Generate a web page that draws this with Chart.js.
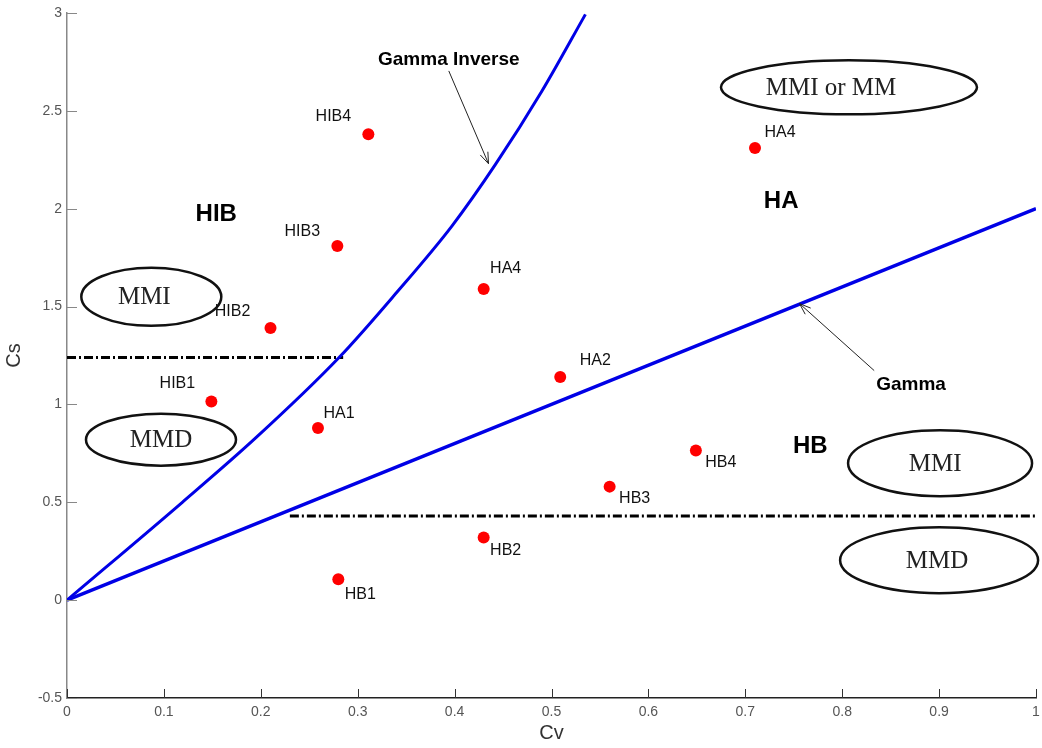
<!DOCTYPE html>
<html>
<head>
<meta charset="utf-8">
<script src="https://cdn.jsdelivr.net/npm/chart.js@4.4.1/dist/chart.umd.min.js"></script>
<style>
	html, body { margin: 0; padding: 0; background: #ffffff; }
	#wrap { width: 1042px; height: 748px; }
</style>
</head>
<body>
<div id="wrap"><canvas id="chart" width="1042" height="748"></canvas></div>
<script>
// sample points
const pointNames = [ 'HIB1', 'HIB2', 'HIB3', 'HIB4', 'HA1', 'HA4', 'HA2', 'HA4', 'HB1', 'HB2', 'HB3', 'HB4' ];
const pointCv = [ 0.149, 0.21, 0.279, 0.311, 0.259, 0.43, 0.509, 0.71, 0.28, 0.43, 0.56, 0.649 ];
const pointCs = [ 1.015, 1.39, 1.81, 2.38, 0.88, 1.59, 1.14, 2.31, 0.107, 0.32, 0.58, 0.765 ];

// Gamma line and Gamma Inverse curve
const gammaCv = [ 0, 1 ];
const gammaCs = [ 0, 2 ];
const gammaInvCv = [ 0, 0.119, 0.195, 0.281, 0.339, 0.397, 0.442, 0.49, 0.535 ];
const gammaInvCs = [ 0, 0.5, 0.83, 1.241, 1.565, 1.91, 2.225, 2.6, 2.993 ];

// dash-dot thresholds
const upperCv = [ 0, 0.285 ];
const upperCs = [ 1.24, 1.24 ];
const lowerCv = [ 0.23, 1 ];
const lowerCs = [ 0.43, 0.43 ];

// tick labels
const xTicks = [ 0, 0.1, 0.2, 0.3, 0.4, 0.5, 0.6, 0.7, 0.8, 0.9, 1 ];
const yTicks = [ -0.5, 0, 0.5, 1, 1.5, 2, 2.5, 3 ];

// label offsets (px) from each point
const labelOffsets = [ [ -34, -18 ], [ -38, -17 ], [ -35, -14 ], [ -35, -18 ], [ 21, -14 ], [ 22, -20 ],
	[ 35, -16 ], [ 25, -15 ], [ 22, 15 ], [ 22, 13 ], [ 25, 12 ], [ 25, 12 ] ];

const ellipses = [
	{ text: 'MMI or MM', cv: 0.807, cs: 2.62, rx: 128, ry: 27, dx: -18 },
	{ text: 'MMI', cv: 0.087, cs: 1.55, rx: 70, ry: 29, dx: -7 },
	{ text: 'MMD', cv: 0.097, cs: 0.82, rx: 75, ry: 26, dx: 0 },
	{ text: 'MMI', cv: 0.901, cs: 0.70, rx: 92, ry: 33, dx: -5 },
	{ text: 'MMD', cv: 0.90, cs: 0.204, rx: 99, ry: 33, dx: -2 },
];

const regionLabels = [
	{ text: 'HIB', cv: 0.154, cs: 1.97 },
	{ text: 'HA', cv: 0.737, cs: 2.04 },
	{ text: 'HB', cv: 0.767, cs: 0.786 },
];

const arrows = [
	{ text: 'Gamma Inverse', tcv: 0.394, tcs: 2.76, from: [ 0.394, 2.704 ], to: [ 0.435, 2.23 ] },
	{ text: 'Gamma', tcv: 0.871, tcs: 1.10, from: [ 0.833, 1.173 ], to: [ 0.756, 1.515 ] },
];

const blue = '#0000e6';
const tickFont = { family: 'Liberation Sans', size: 14 };

const toXY = ( xs, ys ) => xs.map( ( x, i ) => ( { x, y: ys[ i ] } ) );

const overlay = {
	id: 'overlay',
	afterDatasetsDraw( chart ) {
		const { ctx, chartArea } = chart;
		const sx = chart.scales.x;
		const sy = chart.scales.y;
		ctx.save();

		// inward tick marks
		ctx.lineWidth = 1;
		ctx.strokeStyle = '#333333';
		xTicks.forEach( ( v ) => {
			const px = Math.round( sx.getPixelForValue( v ) ) + 0.5;
			ctx.beginPath();
			ctx.moveTo( px, chartArea.bottom );
			ctx.lineTo( px, chartArea.bottom - 9 );
			ctx.stroke();
		} );
		ctx.strokeStyle = '#888888';
		yTicks.forEach( ( v ) => {
			const py = Math.round( sy.getPixelForValue( v ) ) + 0.5;
			ctx.beginPath();
			ctx.moveTo( chartArea.left, py );
			ctx.lineTo( chartArea.left + 10, py );
			ctx.stroke();
		} );

		// point labels
		ctx.fillStyle = '#111111';
		ctx.font = '16px "Liberation Sans"';
		ctx.textAlign = 'center';
		ctx.textBaseline = 'middle';
		pointNames.forEach( ( name, i ) => {
			const px = sx.getPixelForValue( pointCv[ i ] ) + labelOffsets[ i ][ 0 ];
			const py = sy.getPixelForValue( pointCs[ i ] ) + labelOffsets[ i ][ 1 ];
			ctx.fillText( name, px, py );
		} );

		// ellipses
		ellipses.forEach( ( e ) => {
			const cx = sx.getPixelForValue( e.cv );
			const cy = sy.getPixelForValue( e.cs );
			ctx.beginPath();
			ctx.ellipse( cx, cy, e.rx, e.ry, 0, 0, Math.PI * 2 );
			ctx.lineWidth = 2.5;
			ctx.strokeStyle = '#111111';
			ctx.stroke();
			ctx.fillStyle = '#222222';
			ctx.font = '25px "Liberation Serif"';
			ctx.fillText( e.text, cx + e.dx, cy + 1 );
		} );

		// region labels
		ctx.fillStyle = '#000000';
		ctx.font = 'bold 24px "Liberation Sans"';
		regionLabels.forEach( ( r ) => {
			ctx.fillText( r.text, sx.getPixelForValue( r.cv ), sy.getPixelForValue( r.cs ) );
		} );

		// arrows
		arrows.forEach( ( a ) => {
			ctx.font = 'bold 19px "Liberation Sans"';
			ctx.fillStyle = '#000000';
			ctx.fillText( a.text, sx.getPixelForValue( a.tcv ), sy.getPixelForValue( a.tcs ) );
			const x0 = sx.getPixelForValue( a.from[ 0 ] );
			const y0 = sy.getPixelForValue( a.from[ 1 ] );
			const x1 = sx.getPixelForValue( a.to[ 0 ] );
			const y1 = sy.getPixelForValue( a.to[ 1 ] );
			const ang = Math.atan2( y1 - y0, x1 - x0 );
			ctx.strokeStyle = '#222222';
			ctx.lineWidth = 1;
			ctx.beginPath();
			ctx.moveTo( x0, y0 );
			ctx.lineTo( x1, y1 );
			ctx.moveTo( x1 - 12 * Math.cos( ang - 0.35 ), y1 - 12 * Math.sin( ang - 0.35 ) );
			ctx.lineTo( x1, y1 );
			ctx.lineTo( x1 - 12 * Math.cos( ang + 0.35 ), y1 - 12 * Math.sin( ang + 0.35 ) );
			ctx.stroke();
		} );

		// axis titles
		ctx.fillStyle = '#333333';
		ctx.font = '20px "Liberation Sans"';
		ctx.fillText( 'Cv', ( chartArea.left + chartArea.right ) / 2, 733 );
		ctx.translate( 14, ( chartArea.top + chartArea.bottom ) / 2 );
		ctx.rotate( -Math.PI / 2 );
		ctx.fillText( 'Cs', 0, 0 );
		ctx.restore();
	},
};

new Chart( document.getElementById( 'chart' ), {
	type: 'scatter',
	data: {
		datasets: [
			{
				label: 'Gamma',
				data: toXY( gammaCv, gammaCs ),
				showLine: true,
				borderColor: blue,
				borderWidth: 3.5,
				pointRadius: 0,
			},
			{
				label: 'Gamma Inverse',
				data: toXY( gammaInvCv, gammaInvCs ),
				showLine: true,
				cubicInterpolationMode: 'monotone',
				borderColor: blue,
				borderWidth: 3,
				pointRadius: 0,
			},
			{
				label: 'upper',
				data: toXY( upperCv, upperCs ),
				showLine: true,
				borderColor: '#000000',
				borderWidth: 3,
				borderDash: [ 9, 3, 2, 3 ],
				pointRadius: 0,
			},
			{
				label: 'lower',
				data: toXY( lowerCv, lowerCs ),
				showLine: true,
				borderColor: '#000000',
				borderWidth: 3,
				borderDash: [ 9, 3, 2, 3 ],
				pointRadius: 0,
			},
			{
				label: 'samples',
				data: toXY( pointCv, pointCs ),
				pointRadius: 6,
				backgroundColor: '#ff0000',
				borderWidth: 0,
			},
		],
	},
	options: {
		responsive: false,
		animation: false,
		layout: { padding: { top: 13, right: 0, left: 0, bottom: 0 } },
		plugins: {
			legend: { display: false },
			tooltip: { enabled: false },
		},
		scales: {
			x: {
				type: 'linear',
				min: 0,
				max: 1,
				afterBuildTicks( scale ) {
					scale.ticks = xTicks.map( ( value ) => ( { value } ) );
				},
				ticks: {
					color: '#555555',
					font: tickFont,
					padding: 6,
					callback: ( v ) => String( v ),
				},
				grid: { display: false, drawTicks: false },
				border: { color: '#222222', width: 1.5 },
				afterFit( scale ) {
					scale.height = 50;
					scale.paddingLeft = 0;
					scale.paddingRight = 0;
				},
			},
			y: {
				type: 'linear',
				min: -0.5,
				max: 3,
				afterBuildTicks( scale ) {
					scale.ticks = yTicks.map( ( value ) => ( { value } ) );
				},
				ticks: {
					color: '#555555',
					font: tickFont,
					padding: 5,
					callback: ( v ) => String( v ),
				},
				grid: { display: false, drawTicks: false },
				border: { color: '#888888', width: 1.5 },
				afterFit( scale ) {
					scale.width = 67;
					scale.paddingTop = 0;
					scale.paddingBottom = 0;
				},
			},
		},
	},
	plugins: [ overlay ],
} );
</script>
</body>
</html>
